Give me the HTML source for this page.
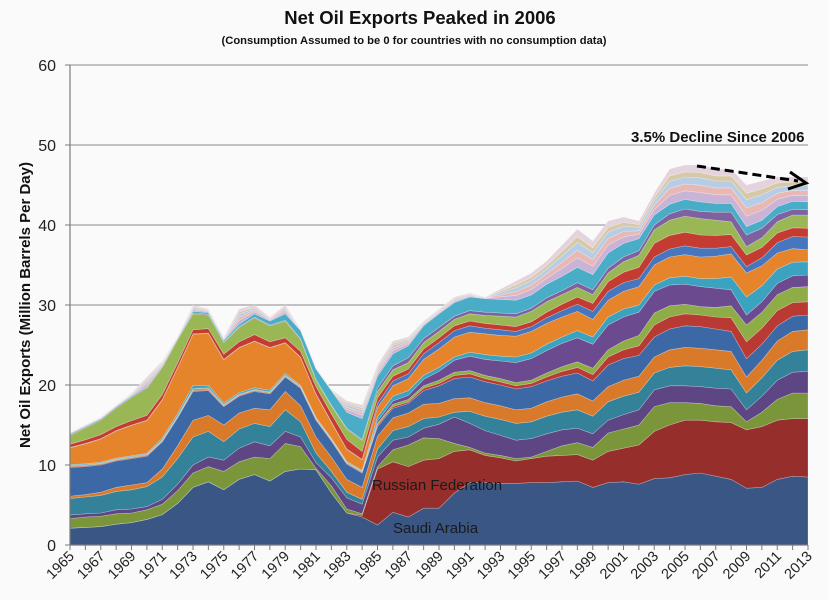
<!DOCTYPE html>
<html><head><meta charset="utf-8"><style>
html,body{margin:0;padding:0;background:#fafafa;}
svg{display:block;font-family:"Liberation Sans",sans-serif;}
</style></head><body>
<svg id="chart" width="829" height="600" viewBox="0 0 829 600">
<rect width="829" height="600" fill="#fafafa"/>
<text x="420" y="24" text-anchor="middle" font-size="18.5" font-weight="bold" fill="#111">Net Oil Exports Peaked in 2006</text>
<text x="414" y="44" text-anchor="middle" font-size="11.2" font-weight="bold" fill="#111">(Consumption Assumed to be 0 for countries with no consumption data)</text>
<text transform="translate(30,305) rotate(-90)" text-anchor="middle" font-size="15" font-weight="bold" fill="#111">Net Oil Exports (Million Barrels Per Day)</text>
<g id="grid"></g>
<g id="areas"></g>
<g id="axes"></g>
<text x="372" y="490" font-size="15" fill="#1a1a1a">Russian Federation</text>
<text x="393" y="533" font-size="15" fill="#1a1a1a">Saudi Arabia</text>
<text x="631" y="142" font-size="15" font-weight="bold" fill="#111">3.5% Decline Since 2006</text>
<line x1="697" y1="166" x2="798" y2="181" stroke="#000" stroke-width="3" stroke-dasharray="9,5"/>
<polyline points="790,172 806,183 788,189" fill="none" stroke="#000" stroke-width="3"/>
</svg>
<script>
const years = [];
for (let y = 1965; y <= 2013; y++) years.push(y);
const yTicks = [0,10,20,30,40,50,60];
const saudi = [2.1,2.2,2.3,2.6,2.8,3.2,3.8,5.2,7.2,7.9, 6.9,8.2,8.8,8.0,9.2,9.5,9.4,6.5,4.0,3.5, 2.5,4.1,3.5,4.6,4.6,6.5,7.8,7.8,7.7,7.7, 7.8,7.8,7.9,8.0,7.2,7.8,7.9,7.6,8.3,8.4, 8.8,9.0,8.6,8.2,7.1,7.2,8.2,8.6,8.5];
const russia = [0,0,0,0,0,0,0,0,0,0, 0,0,0,0,0,0,0,0,0,0.2, 7.0,6.3,6.3,6.0,6.2,5.2,4.1,3.4,3.2,2.8, 3.0,3.3,3.3,3.3,3.4,3.9,4.2,4.9,5.9,6.6, 6.8,6.6,6.8,7.1,7.3,7.6,7.4,7.2,7.3];
const s3 = [1.2,1.3,1.3,1.3,1.2,1.2,1.3,1.6,1.8,1.9, 2.3,2.2,2.2,2.8,3.5,2.8,0.2,0.9,0.5,0.2, 0.3,1.5,2.7,2.8,2.5,1.0,0.3,0.3,0.3,0.3, 0.2,0.6,1.2,1.5,1.6,2.3,2.4,2.5,3.1,2.8, 2.2,2.1,2.0,2.0,1.0,1.8,2.6,3.2,3.2];
const s4 = [0.45,0.4,0.4,0.5,0.5,0.4,0.6,0.8,1.0,1.2, 1.4,1.7,1.9,1.6,1.5,1.2,0.7,1.0,1.4,1.2, 1.2,1.2,1.0,1.2,1.8,3.3,3.0,2.8,2.5,2.3, 2.3,2.2,2.0,1.8,1.7,1.6,1.8,1.9,2.1,2.1, 2.1,2.1,2.2,2.2,1.5,2.0,2.4,2.6,2.7];
const s5 = [2.05,2.1,2.2,2.3,2.4,2.5,2.8,3.2,3.5,3.2, 2.3,2.4,2.3,2.4,2.7,1.9,1.2,0.8,0.7,0.6, 1.0,1.2,1.3,1.2,0.9,0.6,1.5,1.8,2.0,2.1, 2.1,2.2,2.2,2.3,2.2,2.3,2.3,2.2,2.1,2.3, 2.5,2.5,2.5,2.4,2.1,2.3,2.5,2.6,2.7];
const s6 = [0.3,0.3,0.4,0.5,0.6,0.5,1.0,1.6,2.1,2.0, 2.1,2.0,1.9,2.1,2.3,2.0,2.0,1.8,1.6,1.5, 1.6,1.6,1.7,1.8,1.7,1.7,1.7,1.7,1.7,1.7, 1.7,1.8,1.9,2.0,1.9,1.9,2.0,2.0,2.0,2.2, 2.3,2.3,2.3,2.3,2.0,2.2,2.4,2.5,2.5];
const s7 = [3.6,3.5,3.4,3.3,3.3,3.3,3.4,3.5,3.6,3.1, 2.3,2.1,2.1,2.0,1.8,2.2,2.1,2.0,1.9,1.8, 1.2,1.2,1.2,1.7,2.2,2.5,2.6,2.6,2.6,2.6, 2.7,2.6,2.6,2.6,2.5,2.7,2.7,2.6,2.5,2.6, 2.7,2.7,2.6,2.5,2.3,2.0,1.9,1.9,1.85];
const s8 = [0.1,0.1,0.1,0.1,0.1,0.1,0.1,0.1,0.1,0.1, 0.1,0.1,0.1,0.1,0.1,0.1,0.1,0.1,0.1,0.1, 0.2,0.2,0.2,0.3,0.3,0.4,0.4,0.4,0.4,0.4, 0.4,0.5,0.6,0.7,0.8,1.0,1.1,1.2,1.5,1.5, 1.5,1.45,1.5,1.7,2.1,2.0,1.9,1.7,1.65];
const s9 = [0.1,0.1,0.1,0.1,0.1,0.1,0.1,0.1,0.2,0.2, 0.1,0.1,0.1,0.1,0.1,0.1,0.1,0.1,0.1,0.1, 0.2,0.3,0.3,0.3,0.4,0.4,0.4,0.4,0.4,0.4, 0.4,0.5,0.6,0.7,0.8,0.9,1.1,1.3,1.5,1.4, 1.2,1.05,1.2,1.5,2.1,2.0,2.0,1.9,1.9];
const s10 = [0.05,0.05,0.05,0.05,0.05,0.05,0.05,0.05,0.05,0.05, 0.05,0.05,0.05,0.05,0.05,0.05,0.05,0.05,0.05,0.05, 0.3,0.4,0.5,0.8,1.1,1.5,1.8,2.0,2.2,2.5, 2.7,2.8,2.9,3.0,3.0,3.1,3.0,2.9,2.7,2.6, 2.5,2.5,2.4,2.0,1.25,1.3,1.4,1.45,1.45];
const s11 = [0.1,0.1,0.1,0.1,0.1,0.1,0.2,0.3,0.4,0.3, 0.2,0.2,0.2,0.2,0.2,0.1,0.1,0.1,0.1,0.1, 0.5,0.6,0.6,0.5,0.5,0.4,0.5,0.6,0.6,0.7, 0.7,0.8,0.8,0.9,0.9,1.0,1.0,0.9,0.8,0.9, 1.0,1.0,1.2,1.6,2.25,2.0,1.8,1.7,1.65];
const s12 = [2.1,2.5,2.9,3.4,3.8,4.1,4.8,5.7,6.4,6.5, 5.4,5.6,5.8,5.3,3.8,3.5,2.9,2.0,1.5,1.3, 1.2,1.3,1.5,2.0,2.3,2.5,2.5,2.6,2.6,2.6, 2.7,2.6,2.5,2.4,2.2,2.1,2.2,2.3,2.5,2.6, 2.7,2.7,2.8,2.9,3.0,2.5,2.0,1.7,1.5];
const s13 = [0.05,0.05,0.05,0.05,0.05,0.05,0.05,0.05,0.05,0.05, 0.05,0.05,0.05,0.05,0.05,0.05,0.05,0.05,0.05,0.05, 0.5,0.6,0.6,0.7,0.8,0.8,0.8,0.7,0.7,0.6, 0.6,0.7,0.8,0.9,1.0,1.1,1.1,1.0,1.0,1.0, 1.1,1.1,1.0,0.9,0.8,1.0,1.3,1.5,1.6];
const s14 = [0.4,0.45,0.5,0.5,0.55,0.6,0.6,0.55,0.5,0.55, 0.65,0.7,0.8,0.7,0.6,0.7,0.9,1.0,1.2,1.0, 0.7,0.6,0.6,0.6,0.6,0.6,0.6,0.6,0.6,0.6, 0.6,0.7,0.8,0.9,1.0,1.2,1.3,1.4,1.7,1.7, 1.7,1.65,1.6,1.5,1.45,1.3,1.2,1.1,1.1];
const s15 = [1.1,1.5,1.8,2.3,2.9,3.4,3.4,2.9,2.0,1.7, 1.45,1.8,2.1,2.0,2.1,1.5,0.8,1.0,1.3,1.4, 0.8,0.8,0.8,0.8,0.8,0.8,0.9,1.0,1.1,1.2, 1.3,1.3,1.2,1.2,1.1,1.1,1.3,1.5,1.7,1.9, 2.0,2.05,1.9,1.6,1.05,1.2,1.4,1.6,1.65];
const s16 = [0.1,0.1,0.1,0.1,0.1,0.1,0.1,0.1,0.1,0.1, 0.1,0.1,0.1,0.1,0.1,0.1,0.1,0.1,0.1,0.1, 0.4,0.5,0.6,0.5,0.5,0.4,0.4,0.4,0.4,0.4, 0.4,0.5,0.5,0.6,0.6,0.6,0.6,0.6,0.6,0.8, 0.9,0.9,1.0,1.2,1.45,1.2,0.9,0.7,0.65];
const s17 = [0.1,0.1,0.1,0.1,0.1,0.1,0.1,0.1,0.2,0.2, 0.2,0.3,0.4,0.5,0.8,1.0,1.3,1.8,2.0,2.6, 1.5,1.5,1.5,1.6,1.7,1.7,1.7,1.7,1.7,1.7, 1.65,1.7,1.8,1.9,1.9,1.9,1.7,1.5,1.25,1.2, 1.2,1.2,1.1,1.1,1.05,1.0,1.0,1.0,1.0];
const totals = [13,14.5,15.5,17,19,21,23,25.5,30,29.5, 26,29.5,30,28.5,30,26,22,19,18,17.5, 22.5,25.5,26,28,29.5,31,31.5,31,32,33, 34,35.5,37.5,39.5,38,40.5,41,40.5,44,47, 47.5,47.5,47,47,45,45.5,46,46,46];

const series = [saudi,russia,s3,s4,s5,s6,s7,s8,s9,s10,s11,s12,s13,s14,s15,s16,s17];
const seriesNames = ['saudi-arabia','russian-federation','exporter-3','exporter-4','exporter-5','exporter-6','exporter-7','exporter-8','exporter-9','exporter-10','exporter-11','exporter-12','exporter-13','exporter-14','exporter-15','exporter-16','exporter-17'];
const colors = ['#3a5684','#962f2b','#7b963a','#5d4683','#33829a','#d97a2b','#3d68a6','#b83a32','#8fad47','#6b4a90','#3ba2c0','#e6842b','#4676bd','#c43b31','#99b855','#7e62a0','#4aadc8'];

const X0 = 70, X1 = 808, Y0 = 545, YMAX = 60, PH = 480;
const xs = i => X0 + i * (X1 - X0) / (years.length - 1);
const ys = v => Y0 - v / YMAX * PH;
const NS = 'http://www.w3.org/2000/svg';
const mk = (t, a, p) => { const e = document.createElementNS(NS, t); for (const k in a) e.setAttribute(k, a[k]); p.appendChild(e); return e; };

const grid = document.getElementById('grid');
yTicks.forEach(t => {
  if (t > 0) {
    const g = mk('line', {x1: X0, x2: X1, y1: ys(t), y2: ys(t), stroke: '#8a8a8a', 'stroke-width': 1}, grid);
    
    
  }
  const lb = mk('text', {x: 56, y: ys(t) + 6, 'text-anchor': 'end', 'font-size': 16, fill: '#222'}, grid);
  lb.textContent = t;
  
  
});

const areas = document.getElementById('areas');
let base = years.map(() => 0);
function drawLayer(vals, color, name) {
  const top = base.map((b, i) => b + vals[i]);
  let d = 'M' + years.map((_, i) => xs(i).toFixed(1) + ',' + ys(top[i]).toFixed(1)).join('L');
  for (let i = years.length - 1; i >= 0; i--) d += 'L' + xs(i).toFixed(1) + ',' + ys(base[i]).toFixed(1);
  d += 'Z';
  const p = mk('path', {d: d, fill: color, stroke: 'rgba(255,255,255,0.35)', 'stroke-width': 0.6}, areas);
  
  
  base = top;
}
series.forEach((s, k) => drawLayer(s, colors[k], seriesNames[k]));
const others = totals.map((t, i) => Math.max(0.2, t - base[i]));
const bandCols = ['#c9b3d6','#e8b9b4','#b7cde6','#d7c9a8','#e4d2dc'];
const frac = [0.25,0.2,0.2,0.15,0.2];
frac.forEach((f, k) => drawLayer(others.map(v => v * f), bandCols[k], 'other-exporters-' + (k + 1)));

const axes = document.getElementById('axes');
let a = mk('line', {x1: X0, x2: X0, y1: ys(60), y2: Y0, stroke: '#7a7a7a', 'stroke-width': 1.2}, axes);


a = mk('line', {x1: X0, x2: X1, y1: Y0, y2: Y0, stroke: '#7a7a7a', 'stroke-width': 1.2}, axes);


yTicks.forEach(t => {
  const tk = mk('line', {x1: X0 - 5, x2: X0, y1: ys(t), y2: ys(t), stroke: '#7a7a7a'}, axes);
  
  
});
years.forEach((yr, i) => {
  const tk = mk('line', {x1: xs(i), x2: xs(i), y1: Y0, y2: Y0 + 5, stroke: '#7a7a7a'}, axes);
  
  
  if ((yr - 1965) % 2 === 0) {
    const lb = mk('text', {transform: 'translate(' + (xs(i) + 5) + ',' + (Y0 + 12) + ') rotate(-45)', 'text-anchor': 'end', 'font-size': 14.5, fill: '#222'}, axes);
    lb.textContent = yr;
    
    
  }
});
</script>
</body></html>
